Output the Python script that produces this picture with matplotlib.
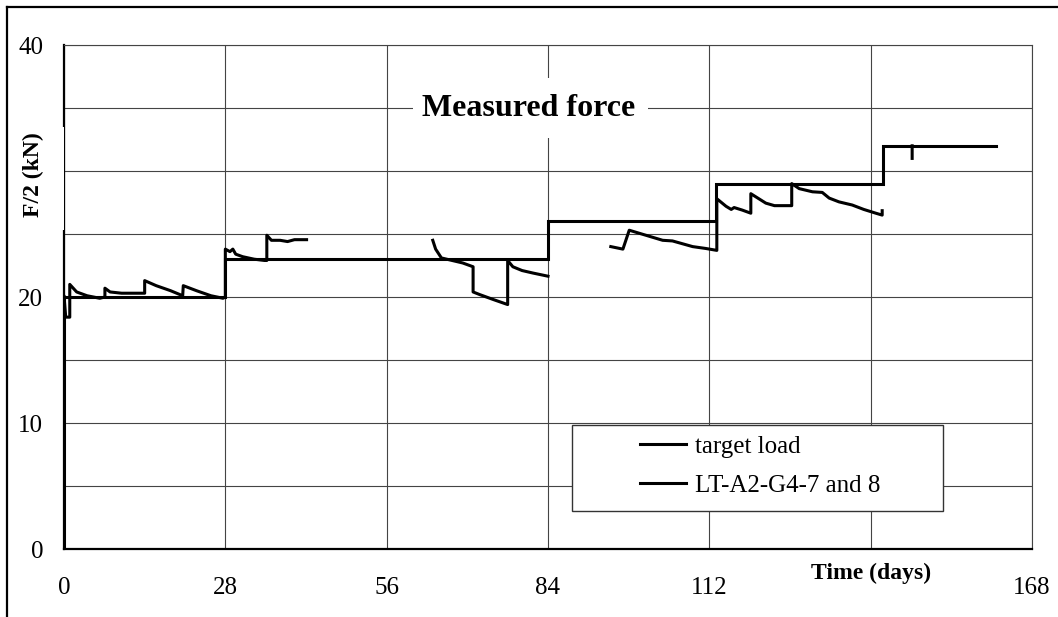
import matplotlib
matplotlib.use("Agg")
import matplotlib.pyplot as plt
import numpy as np
from matplotlib.lines import Line2D
from matplotlib.patches import Rectangle
from matplotlib.transforms import blended_transform_factory

plt.rcParams['font.family'] = ['Liberation Serif', 'DejaVu Serif']

# target load steps (days, kN)
target_t = [0, 0, 28, 28, 84, 84, 113.2, 113.2, 142.2, 142.2, 161.8]
target_f = [0, 20, 20, 23, 23, 26, 26, 29, 29, 32, 32]

# measured force, gaps between recording periods are NaN
meas_t = [0, 0, 0.3, 1.0, 1.0, 2.2, 4.0, 6.2, 7.1, 7.1, 8.0, 10.0, 14.0,
          14.0, 16.0, 18.5, 20.6, 20.7, 23.0, 25.5, 27.6, 28.0,
          28.0, 28.8, 29.3, 29.8, 31.0, 33.0, 34.8, 35.2, 35.2, 36.0, 37.5,
          38.8, 40.0, 42.1, np.nan,
          64.0, 64.5, 65.5, 69.2, 71.0, 71.0, 72.1, 74.5, 77.0, 77.0, 77.9,
          79.5, 81.4, 84.0, np.nan,
          94.9, 97.0, 98.1, 99.9, 103.9, 105.6, 109.1, 111.4, 113.3,
          113.3, 114.9, 115.8, 116.3, 117.7, 119.2, 119.2, 121.8, 123.3,
          126.3, 126.3, 127.6, 129.9, 131.6, 132.8, 134.5, 136.8, 138.8,
          140.9, 142.0, 142.0, np.nan,
          147.2, 147.2]
meas_f = [0, 20.1, 18.4, 18.4, 21.0, 20.4, 20.1, 19.9, 20.0, 20.7, 20.4,
          20.3, 20.3,
          21.3, 20.9, 20.5, 20.1, 20.9, 20.5, 20.1, 19.9, 20.0,
          23.8, 23.6, 23.8, 23.4, 23.2, 23.0, 22.9, 22.9, 24.9, 24.5, 24.5,
          24.4, 24.55, 24.55, np.nan,
          24.5, 23.8, 23.1, 22.7, 22.4, 20.4, 20.2, 19.8, 19.4, 22.9, 22.4,
          22.1, 21.9, 21.65, np.nan,
          24.0, 23.8, 25.3, 25.05, 24.5, 24.45, 24.0, 23.85, 23.7,
          27.8, 27.2, 26.95, 27.1, 26.9, 26.65, 28.2, 27.45, 27.25,
          27.25, 29.0, 28.6, 28.35, 28.3, 27.85, 27.55, 27.3, 26.95,
          26.65, 26.5, 26.85, np.nan,
          32.0, 31.0]

x_ticks = [0, 28, 56, 84, 112, 140, 168]
x_tick_labels = ['0', '28', '56', '84', '112', '', '168']
y_ticks = [0, 10, 20, 30, 40]
y_tick_labels = ['0', '10', '20', '', '40']

W, H = 1058, 617
fig = plt.figure(figsize=(W / 100, H / 100), dpi=100)
ax = fig.add_axes([64 / W, 68 / H, 968 / W, 504 / H])

ax.plot(target_t, target_f, color='black', lw=2.2, solid_joinstyle='miter',
        label='target load', zorder=3)
ax.plot(meas_t, meas_f, color='black', lw=2.2, label='LT-A2-G4-7 and 8',
        zorder=3)

ax.set_xlim(0, 168)
ax.set_ylim(0, 40)
ax.set_xticks(x_ticks)
ax.set_xticklabels(x_tick_labels)
ax.set_yticks(y_ticks)
ax.set_yticklabels(y_tick_labels)
ax.set_yticks(np.arange(5, 40, 10), minor=True)
ax.grid(True, which='both', color='#444444', lw=0.8)
ax.tick_params(which='both', length=0, labelsize=18)
ax.tick_params(axis='x', pad=20)
ax.tick_params(axis='y', pad=15)
ax.set_axisbelow(True)

for side in ['top', 'right']:
    ax.spines[side].set_color('#444444')
    ax.spines[side].set_linewidth(0.8)
for side in ['left', 'bottom']:
    ax.spines[side].set_color('black')
    ax.spines[side].set_linewidth(1.6)

# x-axis title sits where the 140 label would be
trans = blended_transform_factory(ax.transData, ax.transAxes)
ax.text(140, -24 / 504, 'Time (days)', transform=trans, ha='center',
        va='center', fontsize=17, fontweight='bold')

# legend with its own white box
ax.add_patch(Rectangle((508 / 968, 38 / 504), 371 / 968, 86 / 504,
                       transform=ax.transAxes, facecolor='white',
                       edgecolor='#333333', lw=1.0, zorder=4))
ax.legend(loc='center left', bbox_to_anchor=(576 / 968, 83 / 504),
          frameon=False, fontsize=18, borderpad=0, borderaxespad=0,
          handlelength=1.85, handletextpad=0.35, labelspacing=0.68
          ).set_zorder(5)

# white boxes behind the chart title and the y-axis title
fig.add_artist(Rectangle((413 / W, 1 - 138 / H), 235 / W, 60 / H,
                         transform=fig.transFigure, facecolor='white',
                         edgecolor='none', zorder=2))
fig.add_artist(Rectangle((10 / W, 1 - 230 / H), 54 / W, 103 / H,
                         transform=fig.transFigure, facecolor='white',
                         edgecolor='none', zorder=2))
fig.text(529 / W, 1 - 116 / H, 'Measured force', ha='center', va='baseline',
         fontsize=23, fontweight='bold', zorder=3)
fig.text(33 / W, 1 - 175 / H, 'F/2 (kN)', ha='center', va='center',
         rotation=90, fontsize=17, fontweight='bold', zorder=3)

# outer frame, top and left edges
fig.add_artist(Line2D([7 / W, 1], [1 - 6.5 / H, 1 - 6.5 / H],
                      transform=fig.transFigure, color='black', lw=1.6))
fig.add_artist(Line2D([7 / W, 7 / W], [0, 1 - 6.5 / H],
                      transform=fig.transFigure, color='black', lw=1.6))

fig.savefig('out.png', dpi=100)
